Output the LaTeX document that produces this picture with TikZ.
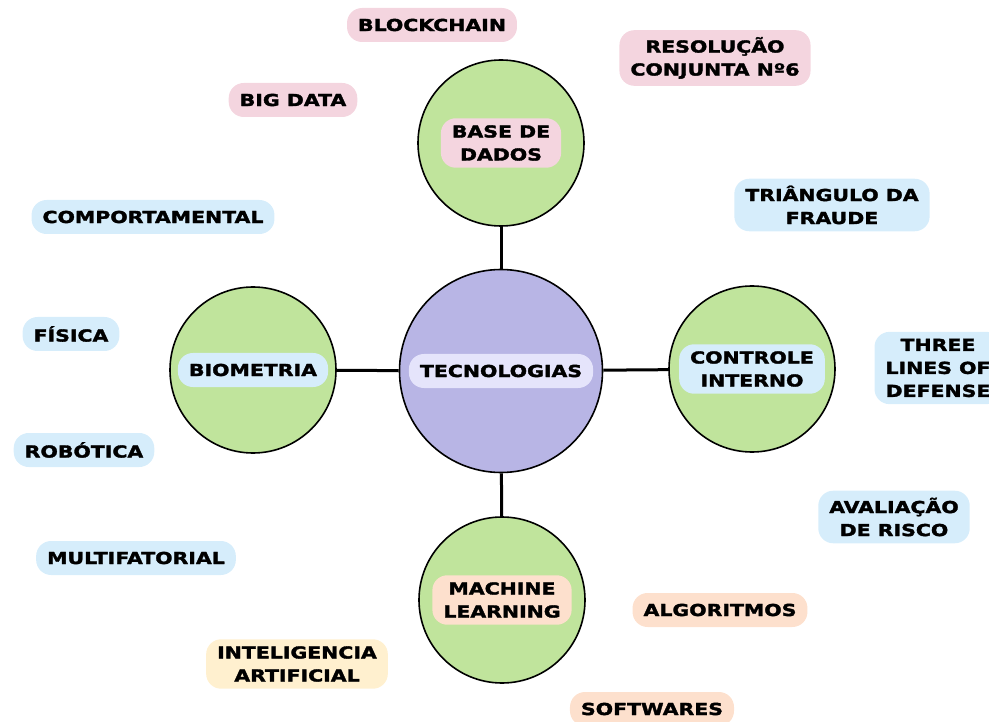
\documentclass[tikz,border=0pt]{standalone}
\usepackage{fontspec}
\newfontfamily\capfont{DejaVu Sans}[FakeStretch=1.24,FakeBold=2]
\definecolor{leaf}{HTML}{C0E49C}
\definecolor{lilac}{HTML}{B8B5E5}
\definecolor{mist}{HTML}{E5E4FB}
\definecolor{rose}{HTML}{F4D5DF}
\definecolor{sky}{HTML}{D6EDFB}
\definecolor{peach}{HTML}{FDE0CD}
\definecolor{cream}{HTML}{FFF0CF}

\begin{document}
\begin{tikzpicture}[x=1pt,y=-1pt,
  hub/.style={circle,draw,line width=1.6pt,fill=leaf,minimum size=166pt,inner sep=0pt},
  tag/.style={rounded corners=15pt,inner xsep=11pt,inner ysep=7pt,minimum height=34pt,
    align=center,font=\capfont\bfseries\fontsize{16.5}{23}\selectfont},
  link/.style={line width=3pt}]
  \useasboundingbox (0,0) rectangle (989,722);
  \clip (0,0) rectangle (989,722);

  % centre and branches
  \node[hub,fill=lilac,minimum size=203pt] (tec) at (501,371) {};
  \node[hub] (base) at (501,143) {};
  \node[hub] (bio) at (253,370) {};
  \node[hub] (ctrl) at (752,369) {};
  \node[hub] (ml) at (502,600) {};
  \draw[link] (base) -- (tec);
  \draw[link] (bio) -- (tec);
  \draw[link] (ctrl) -- (tec);
  \draw[link] (ml) -- (tec);

  \node[tag,fill=mist] (tecl) at (tec) {TECNOLOGIAS};
  \node[tag,fill=rose] (basel) at (base) {BASE DE\\DADOS};
  \node[tag,fill=sky] (biol) at (bio) {BIOMETRIA};
  \node[tag,fill=sky] (ctrll) at (ctrl) {CONTROLE\\INTERNO};
  \node[tag,fill=peach] (mll) at (ml) {MACHINE\\LEARNING};

  % loose topics
  \node[tag,fill=rose] (chain) at (432,25) {BLOCKCHAIN};
  \node[tag,fill=rose] (big) at (293,100) {BIG DATA};
  \node[tag,fill=rose] (res) at (715,58) {RESOLUÇÃO\\CONJUNTA Nº6};
  \node[tag,fill=sky] (tri) at (832,205) {TRIÂNGULO DA\\FRAUDE};
  \node[tag,fill=sky] (comp) at (153,217) {COMPORTAMENTAL};
  \node[tag,fill=sky] (fis) at (71,334) {FÍSICA};
  \node[tag,fill=sky] (rob) at (84,450) {ROBÓTICA};
  \node[tag,fill=sky] (multi) at (136,558) {MULTIFATORIAL};
  \node[tag,fill=sky] (three) at (938,368) {THREE\\LINES OF\\DEFENSE};
  \node[tag,fill=sky] (aval) at (894,517) {AVALIAÇÃO\\DE RISCO};
  \node[tag,fill=peach] (alg) at (720,610) {ALGORITMOS};
  \node[tag,fill=cream] (ia) at (297,664) {INTELIGENCIA\\ARTIFICIAL};
  \node[tag,fill=peach] (soft) at (652,709) {SOFTWARES};
\end{tikzpicture}
\end{document}
